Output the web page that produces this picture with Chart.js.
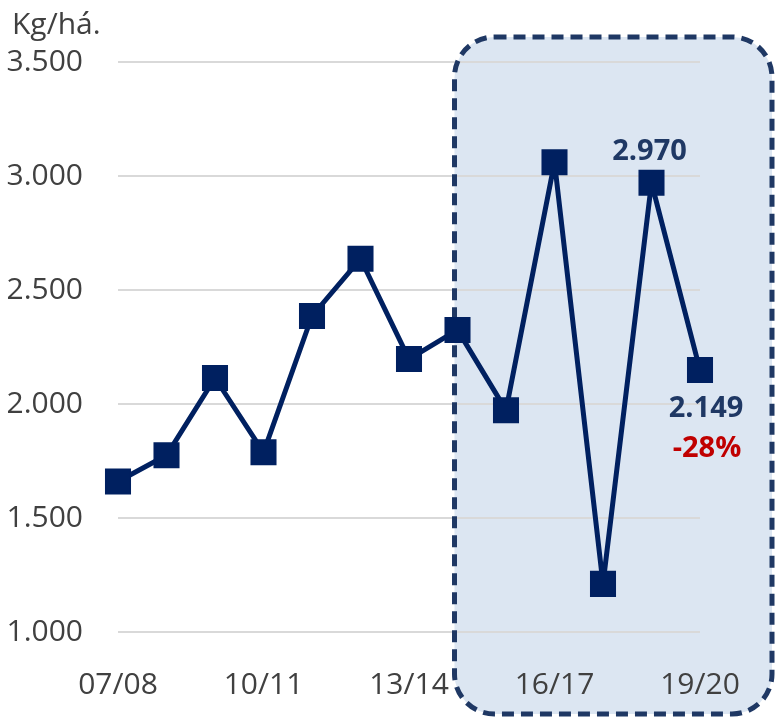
<!DOCTYPE html>
<html>
<head>
<meta charset="utf-8">
<script src="https://cdn.jsdelivr.net/npm/chart.js@4"></script>
<style>
  html, body { margin: 0; padding: 0; background: #fff; }
  #wrap { width: 775px; height: 720px; position: relative; }
</style>
</head>
<body>
<div id="wrap"><canvas id="myChart"></canvas></div>
<script>
// safras e produtividade (kg/há)
const seasons = ["07/08", "08/09", "09/10", "10/11", "11/12", "12/13", "13/14",
	"14/15", "15/16", "16/17", "17/18", "18/19", "19/20"];
const yieldKg = [1660, 1775, 2114, 1788, 2386, 2637, 2197, 2325, 1973, 3060, 1211, 2970, 2149];
const yTicks = [1000, 1500, 2000, 2500, 3000, 3500];
const unitLabel = "Kg/há.";

const FONT = "'Open Sans', sans-serif";
const NAVY = "#002060";

function fmt(v) {
	return String(Math.round(v)).replace(/\B(?=(\d{3})+(?!\d))/g, ".");
}

// caixa tracejada destacando as últimas safras
const highlightBox = {
	id: "highlightBox",
	beforeDraw(chart) {
		const { ctx, chartArea, scales } = chart;
		const left = scales.x.getPixelForValue(7) - 3;
		const top = scales.y.getPixelForValue(3500) - 25;
		const right = chartArea.right + 72;
		const bottom = chartArea.bottom + 82;
		ctx.save();
		ctx.beginPath();
		ctx.roundRect(left, top, right - left, bottom - top, 40);
		ctx.fillStyle = "#dce6f2";
		ctx.fill();
		ctx.restore();
		chart.$box = { left, top, right, bottom };
	},
	beforeDatasetsDraw(chart) {
		const { ctx } = chart;
		const b = chart.$box;
		ctx.save();
		ctx.beginPath();
		ctx.roundRect(b.left, b.top, b.right - b.left, b.bottom - b.top, 40);
		ctx.setLineDash([12, 7]);
		ctx.lineWidth = 5;
		ctx.strokeStyle = "#1f3864";
		ctx.stroke();
		ctx.restore();
	},
	afterDraw(chart) {
		const { ctx } = chart;
		ctx.save();
		ctx.font = "30px " + FONT;
		ctx.fillStyle = "#404040";
		ctx.textAlign = "left";
		ctx.textBaseline = "alphabetic";
		ctx.fillText(unitLabel, 12, 34);
		ctx.restore();
	},
};

// rótulos dos dois últimos pontos
const valueLabels = {
	id: "valueLabels",
	afterDatasetsDraw(chart) {
		const { ctx } = chart;
		const pts = chart.getDatasetMeta(0).data;
		const n = yieldKg.length;
		const prev = yieldKg[n - 2];
		const last = yieldKg[n - 1];
		const pct = Math.round(((last - prev) / prev) * 100);
		ctx.save();
		ctx.textAlign = "center";
		ctx.textBaseline = "middle";
		ctx.font = "bold 29px " + FONT;
		ctx.fillStyle = "#1f3864";
		ctx.fillText(fmt(prev), pts[n - 2].x - 2, pts[n - 2].y - 31);
		ctx.fillText(fmt(last), pts[n - 1].x + 6, pts[n - 1].y + 39);
		ctx.fillStyle = "#c00000";
		ctx.fillText(pct + "%", pts[n - 1].x + 7, pts[n - 1].y + 79);
		ctx.restore();
	},
};

const ctx = document.getElementById("myChart");
const myChart = new Chart(ctx, {
	type: "line",
	data: {
		labels: seasons,
		datasets: [
			{
				data: yieldKg,
				borderColor: NAVY,
				borderWidth: 5,
				borderJoinStyle: "round",
				tension: 0,
				pointStyle: "rect",
				pointRadius: 17,
				pointHoverRadius: 17,
				pointBackgroundColor: NAVY,
				pointBorderColor: NAVY,
				pointBorderWidth: 2,
			},
		],
	},
	options: {
		responsive: true,
		maintainAspectRatio: false,
		animation: false,
		layout: { padding: { top: 62, right: 75, left: 0, bottom: 0 } },
		plugins: {
			legend: { display: false },
			tooltip: { enabled: false },
		},
		scales: {
			x: {
				offset: false,
				grid: { display: false },
				border: { display: false },
				afterFit(scale) { scale.height = 88; },
				ticks: {
					autoSkip: false,
					maxRotation: 0,
					padding: 27,
					color: "#404040",
					font: { family: FONT, size: 30 },
					callback(v, i) { return i % 3 === 0 ? seasons[i] : ""; },
				},
			},
			y: {
				min: yTicks[0],
				max: yTicks[yTicks.length - 1],
				afterFit(scale) { scale.width = 118; },
				afterBuildTicks(scale) { scale.ticks = yTicks.map((v) => ({ value: v })); },
				grid: { color: "#d9d9d9", lineWidth: 2, drawTicks: false },
				border: { display: false },
				ticks: {
					padding: 35,
					color: "#404040",
					font: { family: FONT, size: 30 },
					callback(v) { return fmt(v); },
				},
			},
		},
	},
	plugins: [highlightBox, valueLabels],
});
</script>
</body>
</html>
